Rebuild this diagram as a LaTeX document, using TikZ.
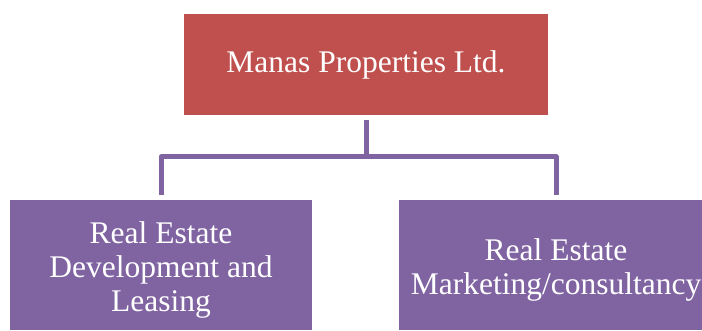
\documentclass[tikz,border=0pt]{standalone}
\usepackage{fontspec}
\setmainfont{Liberation Serif}
\definecolor{boxred}{HTML}{C0504D}
\definecolor{boxpurple}{HTML}{8064A2}
\begin{document}
\begin{tikzpicture}[x=1pt,y=-1pt,
  orgbox/.style={fill=#1, inner sep=0pt},
  boxtext/.style={text=white, inner sep=0pt, align=center,
    font=\fontsize{31.5}{34}\selectfont},
  conn/.style={draw=boxpurple, line width=5pt, line join=round}]
\useasboundingbox (0,0) rectangle (702,331);
\node[orgbox=boxred, minimum width=364pt, minimum height=101pt] (top) at (366,64.5) {};
\node[boxtext] (toptext) at (top.center) {Manas Properties Ltd.};
\node[orgbox=boxpurple, minimum width=302pt, minimum height=130pt] (left) at (161,265) {};
\node[boxtext] (lefttext) at ([yshift=-5pt]left.center) {Real Estate\\Development and\\Leasing};
\node[orgbox=boxpurple, minimum width=314pt, minimum height=130pt] (right) at (556,265) {};
\node[boxtext] (righttext) at ([yshift=-5pt]right.center) {Real Estate\\Marketing/consultancy};
\coordinate (bus) at (366,157);
\draw[conn] ([yshift=-5pt]top.south) -- (top.south |- bus);
\draw[conn] ([yshift=5pt]left.north) -- (left.north |- bus) -- (right.north |- bus) -- ([yshift=5pt]right.north);
\end{tikzpicture}
\end{document}
